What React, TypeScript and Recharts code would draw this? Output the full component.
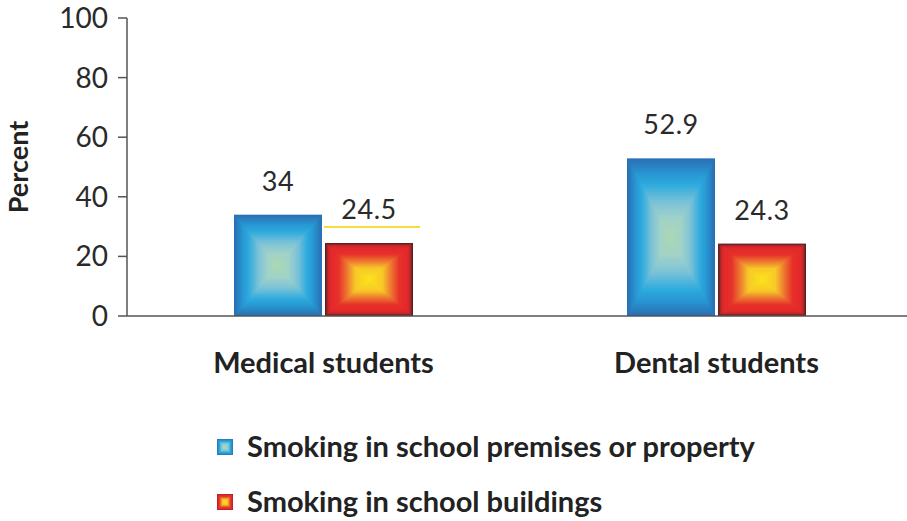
import React from "react";
import { BarChart, Bar, XAxis, YAxis, LabelList } from "recharts";

const categories = ["Medical students", "Dental students"];
const premisesValues = [34, 52.9];
const buildingsValues = [24.5, 24.3];
const yTicks = [0, 20, 40, 60, 80, 100];
const seriesNames = ["Smoking in school premises or property", "Smoking in school buildings"];

const data = categories.map((c, i) => ({
  name: c,
  premises: premisesValues[i],
  buildings: buildingsValues[i],
}));

type Stop = [number, [number, number, number]];
const blueStops: Stop[] = [
  [0, [42, 112, 180]],
  [0.18, [40, 150, 210]],
  [0.32, [45, 170, 222]],
  [0.55, [125, 195, 215]],
  [0.75, [160, 210, 200]],
  [1, [172, 216, 176]],
];
const redStops: Stop[] = [
  [0, [90, 35, 35]],
  [0.06, [200, 40, 40]],
  [0.12, [228, 40, 44]],
  [0.3, [230, 50, 42]],
  [0.5, [238, 125, 48]],
  [0.68, [247, 200, 40]],
  [1, [252, 228, 28]],
];

function colorAt(stops: Stop[], t: number) {
  for (let i = 1; i < stops.length; i++) {
    if (t <= stops[i][0]) {
      const [t0, c0] = stops[i - 1];
      const [t1, c1] = stops[i];
      const f = (t - t0) / (t1 - t0 || 1);
      const c = c0.map((v, k) => Math.round(v + (c1[k] - v) * f));
      return `rgb(${c[0]},${c[1]},${c[2]})`;
    }
  }
  const c = stops[stops.length - 1][1];
  return `rgb(${c[0]},${c[1]},${c[2]})`;
}

function BoxGradient({ x, y, width, height, stops }: any) {
  const n = 40;
  const rects = [];
  for (let i = 0; i < n; i++) {
    const t = i / n;
    rects.push(
      <rect
        key={i}
        x={x + (width * t) / 2}
        y={y + (height * t) / 2}
        width={width * (1 - t)}
        height={height * (1 - t)}
        fill={colorAt(stops, t)}
      />
    );
  }
  return <g>{rects}</g>;
}

const BlueShape = (p: any) => <BoxGradient {...p} stops={blueStops} />;
const RedShape = (p: any) => <BoxGradient {...p} stops={redStops} />;

const makeLabel = (withLine: boolean) => (p: any) => {
  const { x, y, width, value, index } = p;
  return (
    <g>
      <text
        x={x + width / 2}
        y={y - 24}
        textAnchor="middle"
        fontFamily="Lato"
        fontSize={27}
        letterSpacing={0.5}
        fill="#2a2a2a"
      >
        {value}
      </text>
      {withLine && index === 0 ? (
        <line x1={x - 1} x2={x + width + 7} y1={y - 16} y2={y - 16} stroke="#f5d000" strokeWidth={1.5} />
      ) : null}
    </g>
  );
};

const YLabel = () => (
  <text
    x={28}
    y={167}
    transform="rotate(-90 28 167)"
    textAnchor="middle"
    fontFamily="Lato"
    fontWeight="bold"
    fontSize={27}
    fill="#222"
  >
    Percent
  </text>
);

export default function App() {
  return (
    <div style={{ position: "absolute", left: 0, top: 0, width: 907, height: 521, background: "#fff" }}>
      <BarChart
        width={907}
        height={521}
        data={data}
        margin={{ top: 18, right: 0, bottom: 145, left: 0 }}
        barSize={88}
        barGap={3}
      >
        <XAxis
          dataKey="name"
          height={60}
          padding={{ left: 0, right: -6 }}
          axisLine={{ stroke: "#555", strokeWidth: 1.5 }}
          tickLine={false}
          tickSize={0}
          tickMargin={36}
          tick={{ fontFamily: "Lato", fontWeight: "bold", fontSize: 29, fill: "#222" }}
        />
        <YAxis
          width={127}
          domain={[0, 100]}
          ticks={yTicks}
          interval={0}
          tickSize={9}
          tickMargin={10}
          axisLine={{ stroke: "#555", strokeWidth: 1.5 }}
          tickLine={{ stroke: "#555", strokeWidth: 1.5 }}
          tick={{ fontFamily: "Lato", fontSize: 28, fill: "#2a2a2a" }}
        />
        <Bar dataKey="premises" shape={BlueShape} isAnimationActive={false}>
          <LabelList dataKey="premises" content={makeLabel(false)} />
        </Bar>
        <Bar dataKey="buildings" shape={RedShape} isAnimationActive={false}>
          <LabelList dataKey="buildings" content={makeLabel(true)} />
        </Bar>
      </BarChart>
      <svg width={907} height={521} style={{ position: "absolute", left: 0, top: 0, pointerEvents: "none" }}>
        <YLabel />
        {seriesNames.map((s, i) => (
          <g key={s}>
            <BoxGradient x={217} y={439 + i * 55} width={16} height={16} stops={i === 0 ? blueStops : redStops} />
            <text x={247} y={457 + i * 55} fontFamily="Lato" fontWeight="bold" fontSize={29} fill="#222">
              {s}
            </text>
          </g>
        ))}
      </svg>
    </div>
  );
}
